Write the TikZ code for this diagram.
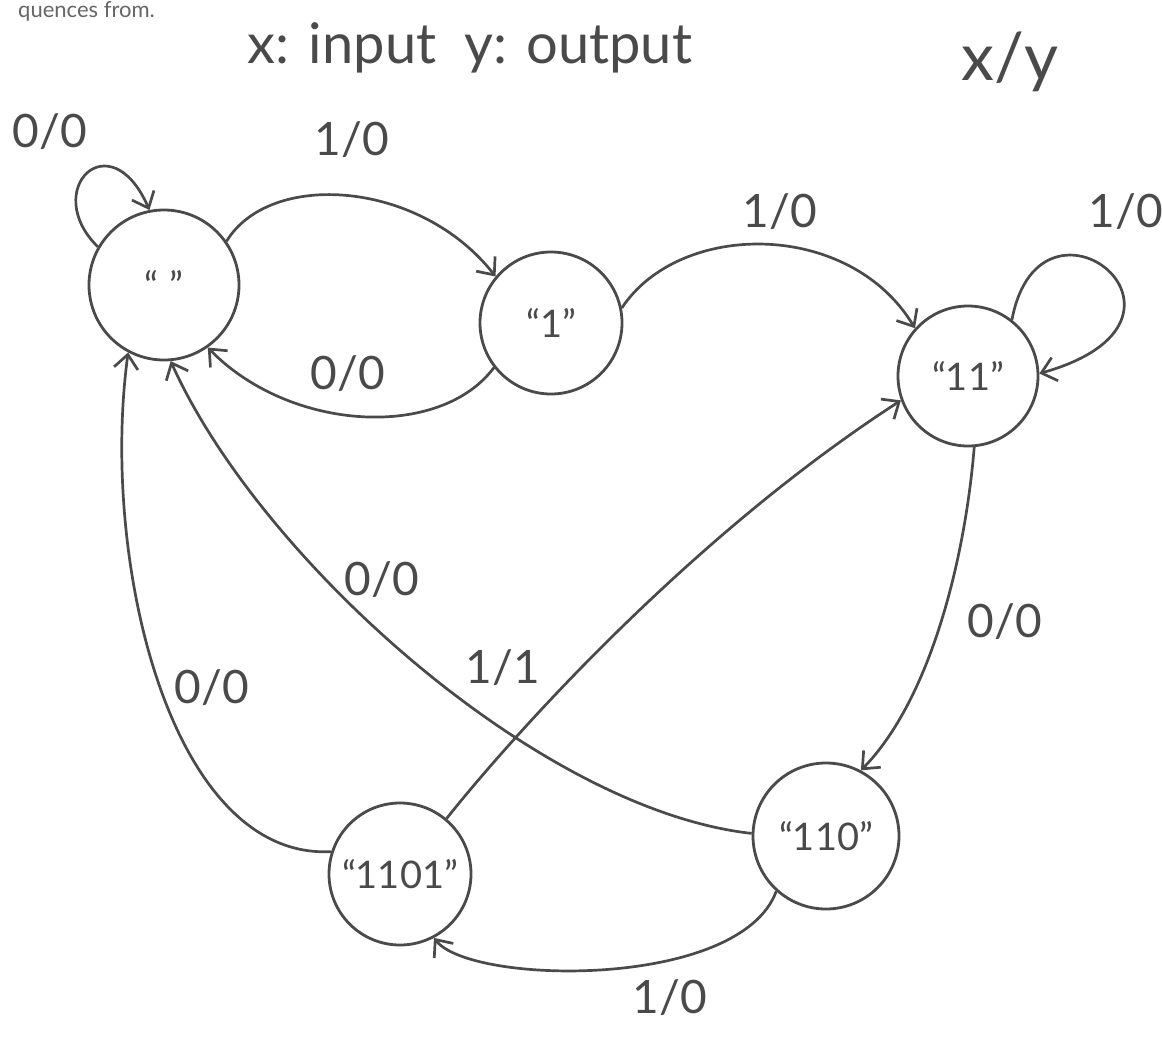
\documentclass[tikz,border=0pt]{standalone}
\usepackage{fontspec}
\setmainfont{Lato}
\usetikzlibrary{arrows.meta}
\definecolor{ink}{HTML}{4A4A4A}
\begin{document}
\begin{tikzpicture}[x=1pt,y=-1pt,
  state/.style={circle,draw=ink,line width=2.8pt,minimum size=#1,inner sep=0pt,text=ink,font=\fontsize{38}{38}\selectfont},
  edge/.style={draw=ink,line width=2.7pt,-{Straight Barb[length=14pt,width=24pt,line width=2.7pt]}},
  lab/.style={text=ink,font=\fontsize{46}{46}\selectfont,inner sep=1pt}]
\useasboundingbox[fill=white] (0,0) rectangle (1162,1050);
\node[anchor=base west,text=gray!80!black,font=\fontsize{22}{22}\selectfont,inner sep=0pt] (prev) at (18,17) {quences from.};
\node[lab,font=\fontsize{56}{56}\selectfont] (hdr) at (470,48) {x: input\enspace y: output};
\node[lab,font=\fontsize{66}{66}\selectfont] (xy) at (1010,62) {x/y};
% states
\node[state=150pt] (s0) at (164,285) {“\;”};
\node[state=142pt] (s1) at (551,323) {“1”};
\node[state=140pt] (s2) at (968,376) {“11”};
\node[state=146pt] (s3) at (826,836) {“110”};
\node[state=142pt] (s4) at (400,874) {“1101”};
% edges
\draw[edge] (s0.150) .. controls (40,190) and (110,120) .. (s0.101);
\draw[edge] (s0.35) .. controls (270,170) and (420,180) .. (s1.140);
\draw[edge] (s1.218) .. controls (440,440) and (290,432) .. (s0.-55);
\draw[edge] (s1.12) .. controls (680,220) and (850,220) .. (s2.138);
\draw[edge] (s2.52) .. controls (1040,170) and (1230,320) .. (s2.2);
\draw[edge] (s2.-85) .. controls (965,560) and (930,700) .. (s3.62);
\draw[edge] (s3.178) .. controls (540,810) and (260,560) .. (s0.-85);
\draw[edge] (s3.-132) .. controls (740,990) and (470,985) .. (s4.-62);
\draw[edge] (s4.162) .. controls (170,860) and (100,560) .. (s0.-118);
\draw[edge] (s4.50) .. controls (505,745) and (685,540) .. (s2.-160);
% labels
\node[lab] (l1) at (50,132) {0/0};
\node[lab] (l2) at (352,140) {1/0};
\node[lab] (l3) at (348,374) {0/0};
\node[lab] (l4) at (780,212) {1/0};
\node[lab] (l5) at (1126,212) {1/0};
\node[lab] (l6) at (1005,622) {0/0};
\node[lab] (l7) at (382,580) {0/0};
\node[lab] (l8) at (503,668) {1/1};
\node[lab] (l9) at (212,688) {0/0};
\node[lab] (l10) at (670,998) {1/0};
\end{tikzpicture}
\end{document}
